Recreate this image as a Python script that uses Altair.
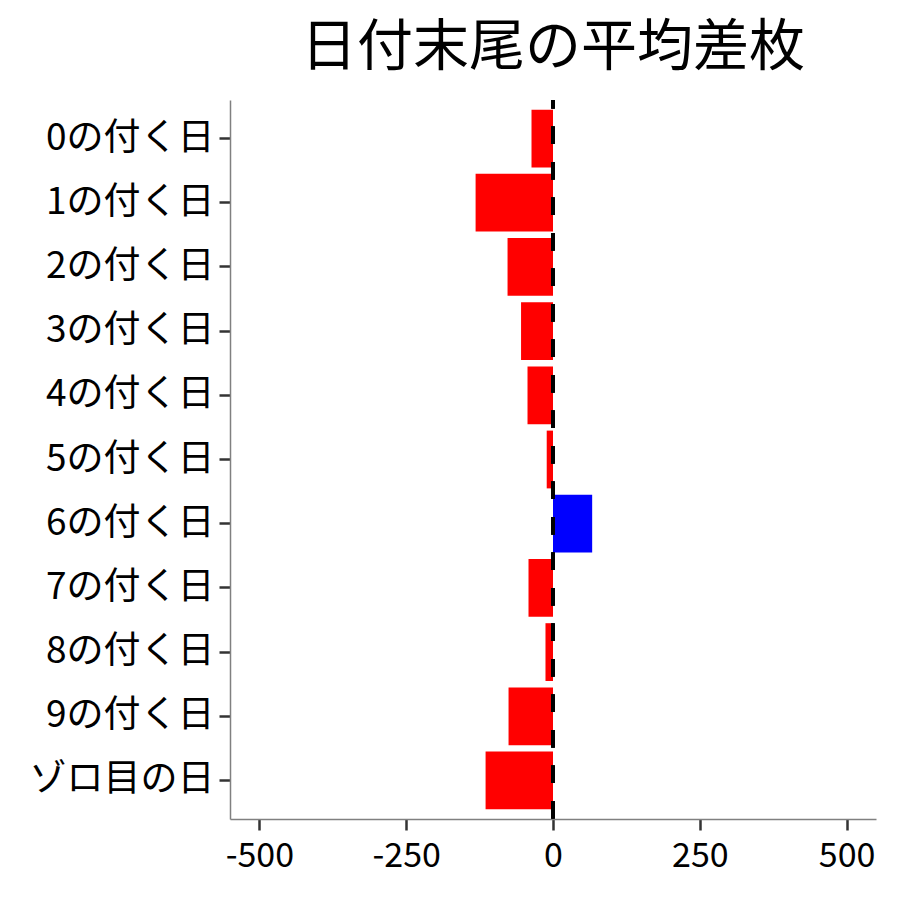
import altair as alt
import pandas as pd

categories = ["0の付く日", "1の付く日", "2の付く日", "3の付く日", "4の付く日",
              "5の付く日", "6の付く日", "7の付く日", "8の付く日", "9の付く日", "ゾロ目の日"]
values = [-36.6, -131.8, -77.4, -54.4, -43.4, -10.7, 66.7, -41.7, -12.8, -75.7, -114.8]
x_ticks = [-500, -250, 0, 250, 500]

df = pd.DataFrame({"cat": categories, "val": values})
df["sign"] = ["pos" if v > 0 else "neg" for v in values]

FONT = "Noto Sans CJK JP"
W, H = 646, 719

bars = alt.Chart(df).mark_bar().encode(
    y=alt.Y("cat:N", sort=categories, title=None,
            scale=alt.Scale(paddingInner=0.1, paddingOuter=0.15),
            axis=alt.Axis(labelFontSize=37, labelFont=FONT, labelColor="black", labelLimit=0,
                          labelPadding=5, tickSize=11, tickWidth=2.5, tickColor="#333333",
                          domainColor="#808080", domainWidth=1.5, grid=False)),
    x=alt.X("val:Q", title=None,
            scale=alt.Scale(domain=[-550, 550], nice=False, zero=False),
            axis=alt.Axis(values=x_ticks, labelExpr="toString(datum.value)",
                          labelFontSize=34, labelFont=FONT,
                          labelColor="black", labelPadding=9, tickSize=11, tickWidth=2.5,
                          tickColor="#333333", domainColor="#808080", domainWidth=1.5,
                          grid=False)),
    color=alt.Color("sign:N", scale=alt.Scale(domain=["neg", "pos"], range=["#FF0000", "#0000FF"]),
                    legend=None),
)

rule = alt.Chart(df).mark_rule(color="black", strokeWidth=3.5, strokeDash=[17, 18.5],
                               strokeDashOffset=8.7).encode(
    x=alt.datum(0),
    y=alt.value(0),
    y2=alt.value(H),
)

chart = alt.layer(bars, rule).properties(
    width=W, height=H,
    background="white",
    title=alt.Title("日付末尾の平均差枚", fontSize=56, font=FONT, fontWeight="normal",
                    color="black", anchor="middle", frame="group", offset=21),
    autosize=alt.AutoSizeParams(type="none"),
    padding={"left": 222, "top": 92, "right": 16, "bottom": 73},
).configure_view(strokeWidth=0, stroke="transparent")

chart.save("out.html", embed_options={"renderer": "svg", "actions": False})
